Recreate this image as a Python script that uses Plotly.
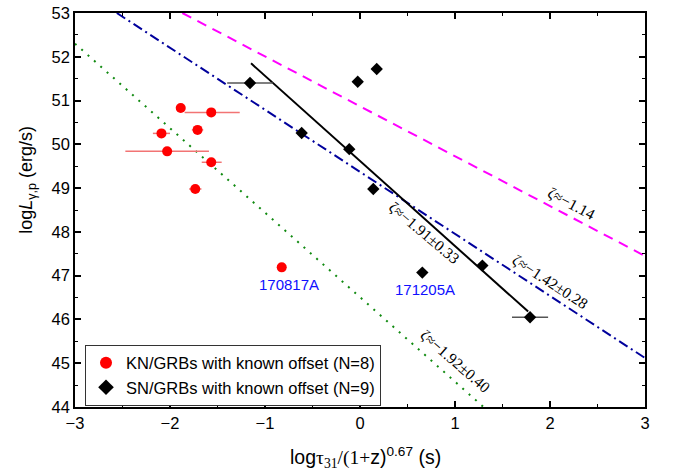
import plotly.graph_objects as go

# KN/GRBs (red)
kn_x = [-1.887, -1.566, -2.09, -1.71, -2.03, -1.566, -1.734, -0.824]
kn_y = [50.83, 50.73, 50.25, 50.33, 49.84, 49.59, 48.98, 47.19]
kn_xerr_minus = [0, 0.28, 0.09, 0.06, 0.44, 0.10, 0.065, 0]
kn_xerr_plus = [0, 0.30, 0.09, 0.06, 0.44, 0.11, 0.065, 0]

# SN/GRBs (black)
sn_x = [-1.158, -0.614, -0.113, 0.14, 0.656, -0.024, 0.176, 1.288, 1.79]
sn_y = [51.40, 50.26, 49.89, 48.98, 47.07, 51.43, 51.72, 47.23, 46.05]
sn_xerr = [0.24, 0, 0, 0, 0, 0, 0, 0, 0.19]

# fitted / reference lines (endpoints)
fit_black_x = [-1.147, 1.77]
fit_black_y = [51.85, 46.18]
line_blue_x = [-2.56, 3.0]
line_blue_y = [53.0, 45.12]
line_mag_x = [-1.87, 3.0]
line_mag_y = [53.0, 47.45]
line_green_x = [-3.0, 1.30]
line_green_y = [52.3, 44.0]

# annotation labels
zeta_labels = ["ζ≈−1.14", "ζ≈−1.91±0.33", "ζ≈−1.42±0.28", "ζ≈−1.92±0.40"]
zeta_x = [2.228, 0.674, 2.0, 1.01]
zeta_y = [48.65, 47.98, 46.86, 45.04]
zeta_angle = [28, 40, 33, 41]

grb_names = ["170817A", "171205A"]
grb_x = [-0.747, 0.684]
grb_y = [46.79, 46.69]

# layout geometry (pixels of the plot frame inside the 676x472 picture)
W, H = 676, 472
PL, PR, PT, PB = 75, 645, 13, 407.5
pw, ph = PR - PL, PB - PT

fig = go.Figure()

fig.add_trace(go.Scatter(x=line_mag_x, y=line_mag_y, mode="lines",
                         line=dict(color="#ff00ff", width=2, dash="10px,7px"),
                         showlegend=False, hoverinfo="skip"))
fig.add_trace(go.Scatter(x=line_blue_x, y=line_blue_y, mode="lines",
                         line=dict(color="#00009c", width=2, dash="10px,4px,2px,4px"),
                         showlegend=False, hoverinfo="skip"))
fig.add_trace(go.Scatter(x=line_green_x, y=line_green_y, mode="lines",
                         line=dict(color="#108a10", width=2, dash="2px,6.5px"),
                         showlegend=False, hoverinfo="skip"))
fig.add_trace(go.Scatter(x=fit_black_x, y=fit_black_y, mode="lines",
                         line=dict(color="black", width=2),
                         showlegend=False, hoverinfo="skip"))

fig.add_trace(go.Scatter(
    x=kn_x, y=kn_y, mode="markers",
    marker=dict(symbol="circle", size=10, color="#ff0000"),
    error_x=dict(type="data", symmetric=False, array=kn_xerr_plus,
                 arrayminus=kn_xerr_minus, color="#f27474", thickness=1.5, width=0),
    name="KN/GRBs with known offset (N=8)"))
fig.add_trace(go.Scatter(
    x=sn_x, y=sn_y, mode="markers",
    marker=dict(symbol="diamond", size=9.5, color="black"),
    error_x=dict(type="data", array=sn_xerr, color="#555555", thickness=1.5, width=0),
    name="SN/GRBs with known offset (N=9)"))

for t, x, y, a in zip(zeta_labels, zeta_x, zeta_y, zeta_angle):
    fig.add_annotation(x=x, y=y, text=t, textangle=a, showarrow=False,
                       xanchor="center", yanchor="middle",
                       font=dict(family="Liberation Serif", size=15.5, color="black"))

for t, x, y in zip(grb_names, grb_x, grb_y):
    fig.add_annotation(x=x, y=y, text=t, showarrow=False,
                       xanchor="center", yanchor="middle",
                       font=dict(family="Liberation Sans", size=15, color="#1010ff"))

# axis titles
fig.add_annotation(xref="paper", yref="paper", x=(365 - PL) / pw, y=-(458 - PB) / ph,
                   xanchor="center", yanchor="middle",
                   text="log<span style='font-family:Liberation Serif'>τ<sub>31</sub>/(1+</span>z)<sup>0.67</sup> (s)",
                   showarrow=False, font=dict(family="Liberation Sans", size=19.5, color="black"))
fig.add_annotation(xref="paper", yref="paper", x=-(PL - 28) / pw, y=(PB - 180) / ph,
                   xanchor="center", yanchor="middle",
                   text="log<i>L</i><sub>γ,p</sub> (erg/s)", textangle=-90,
                   showarrow=False, font=dict(family="Liberation Sans", size=18, color="black"))

axis_common = dict(showline=True, linecolor="black", linewidth=1.5, mirror="allticks",
                   ticks="inside", ticklen=6, tickwidth=1.5, tickcolor="black",
                   showgrid=False, zeroline=False, ticklabeloverflow="allow",
                   tickfont=dict(family="Liberation Sans", size=16.5, color="black"),
                   minor=dict(ticks="inside", ticklen=3, tickwidth=1.2, tickcolor="black",
                              showgrid=False))

fig.update_xaxes(range=[-3, 3], dtick=1, tick0=0, **axis_common)
fig.update_yaxes(range=[44, 53], dtick=1, tick0=44, **axis_common)
fig.update_xaxes(minor_dtick=0.5)
fig.update_yaxes(minor_dtick=0.5)

fig.update_layout(
    width=W, height=H,
    margin=dict(l=PL, r=W - PR, t=PT, b=H - PB, autoexpand=False),
    plot_bgcolor="white", paper_bgcolor="white",
    legend=dict(x=(85 - PL) / pw, y=(PB - 345) / ph, xanchor="left", yanchor="top",
                bordercolor="#333333", borderwidth=1, bgcolor="white",
                font=dict(family="Liberation Sans", size=16.5, color="black"),
                tracegroupgap=0, itemsizing="constant"),
)

fig.write_html("out.html", config={"displayModeBar": False},
               post_script="document.body.style.margin='0px';")
